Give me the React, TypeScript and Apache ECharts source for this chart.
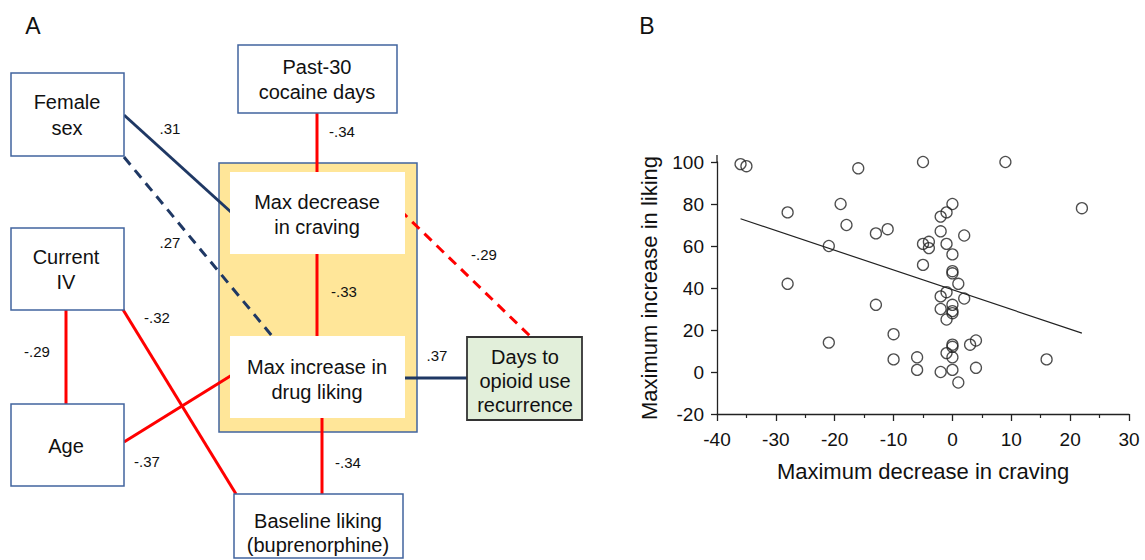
import React, { useEffect, useRef } from "react";
import * as echarts from "echarts";

// Panel B data: maximum decrease in craving (x) vs maximum increase in liking (y)
const cravingDecrease = [
  -36, -35, -16, -5, 9, -28, -19, -18, -13, -11, -21, -28, -13, -10, -21, -10, -6, -6,
  22, 0, -1, -2, -2, 2, -5, -4, -4, -1, 0, -5, 0, 0, 1, -1, -2, 2, -2, 0, 0, 0, -1,
  0, 0, -1, 0, 3, 4, -2, 0, 4, 1, 16,
];
const likingIncrease = [
  99, 98, 97, 100, 100, 76, 80, 70, 66, 68, 60, 42, 32, 18, 14, 6, 7, 1,
  78, 80, 76, 74, 67, 65, 61, 62, 59, 61, 56, 51, 48, 47, 42, 38, 36, 35, 30, 32, 29, 28, 25,
  13, 12, 9, 7, 13, 15, 0, 1, 2, -5, 6,
];
const fitLineX = [-36, 22];
const fitLineY = [73, 18.5];
const xTicks = [-40, 30, 10];
const yTicks = [-20, 100, 20];

// Panel A: path diagram labels and coefficients
const boxLabels = {
  female: ["Female", "sex"],
  cocaine: ["Past-30", "cocaine days"],
  craving: ["Max decrease", "in craving"],
  iv: ["Current", "IV"],
  liking: ["Max increase in", "drug liking"],
  days: ["Days to", "opioid use", "recurrence"],
  age: ["Age"],
  baseline: ["Baseline liking", "(buprenorphine)"],
};
const coefLabels = [".31", ".27", "-.34", "-.33", "-.29", ".37", "-.29", "-.32", "-.37", "-.34"];

const FONT = "Liberation Sans, Arial, Helvetica, sans-serif";
const BLUE = "#41649e";
const NAVY = "#1f3864";
const RED = "#ff0000";

function box(x: number, y: number, w: number, h: number, fill: string, stroke: string | null, lw = 1.5) {
  return {
    type: "rect",
    shape: { x, y, width: w, height: h },
    style: { fill, stroke: stroke || "none", lineWidth: stroke ? lw : 0 },
  };
}
function lines(texts: string[], cx: number, ys: number[], size = 20) {
  return texts.map((t, i) => ({
    type: "text",
    style: {
      text: t,
      x: cx,
      y: ys[i],
      textAlign: "center",
      textVerticalAlign: "middle",
      font: `${size}px ${FONT}`,
      fill: "#111",
    },
  }));
}
function seg(x1: number, y1: number, x2: number, y2: number, color: string, dashed = false) {
  return {
    type: "line",
    shape: { x1, y1, x2, y2 },
    style: { stroke: color, lineWidth: 3, lineDash: dashed ? [10, 7] : null },
  };
}
function coef(t: string, x: number, y: number) {
  return {
    type: "text",
    style: { text: t, x, y, textAlign: "center", textVerticalAlign: "middle", font: `15px ${FONT}`, fill: "#111" },
  };
}

export default function App() {
  const ref = useRef<HTMLDivElement>(null);
  useEffect(() => {
    if (!ref.current) return;
    const chart = echarts.init(ref.current, undefined, { renderer: "svg" });
    const points = cravingDecrease.map((x, i) => [x, likingIncrease[i]]);
    const fit = fitLineX.map((x, i) => [x, fitLineY[i]]);

    const graphic: any[] = [
      { type: "text", style: { text: "A", x: 33, y: 26, textAlign: "center", textVerticalAlign: "middle", font: `23px ${FONT}`, fill: "#111" } },
      { type: "text", style: { text: "B", x: 647, y: 26, textAlign: "center", textVerticalAlign: "middle", font: `23px ${FONT}`, fill: "#111" } },
      // yellow mediator block
      box(219, 163, 198, 269, "#ffe699", BLUE),
      // paths
      seg(124, 115, 232, 213, NAVY),
      seg(124, 157, 272, 336, NAVY, true),
      seg(317, 113, 317, 172, RED),
      seg(317, 254, 317, 336, RED),
      seg(400, 210, 530, 336, RED, true),
      seg(405, 378, 467, 378, NAVY),
      seg(66, 310, 66, 404, RED),
      seg(122, 308, 236, 494, RED),
      seg(124, 442, 232, 375, RED),
      seg(322, 418, 322, 494, RED),
      // boxes
      box(230, 172, 175, 82, "#ffffff", null),
      box(230, 336, 175, 82, "#ffffff", null),
      box(11, 73, 113, 83, "#ffffff", BLUE),
      box(238, 45, 159, 68, "#ffffff", BLUE),
      box(11, 228, 113, 82, "#ffffff", BLUE),
      box(11, 404, 113, 82, "#ffffff", BLUE),
      box(234, 494, 169, 64, "#ffffff", BLUE),
      box(467, 337, 115, 83, "#e2efda", "#333333", 1.8),
      ...lines(boxLabels.female, 67, [102, 128]),
      ...lines(boxLabels.cocaine, 317, [67, 92]),
      ...lines(boxLabels.craving, 317, [202, 227]),
      ...lines(boxLabels.iv, 66, [257, 282]),
      ...lines(boxLabels.liking, 317, [367, 392]),
      ...lines(boxLabels.days, 525, [357, 381, 405]),
      ...lines(boxLabels.age, 66, [446]),
      ...lines(boxLabels.baseline, 318, [521, 545]),
      coef(coefLabels[0], 170, 128),
      coef(coefLabels[1], 170, 242),
      coef(coefLabels[2], 342, 131),
      coef(coefLabels[3], 344, 291),
      coef(coefLabels[4], 484, 254),
      coef(coefLabels[5], 437, 355),
      coef(coefLabels[6], 37, 351),
      coef(coefLabels[7], 157, 317),
      coef(coefLabels[8], 147, 461),
      coef(coefLabels[9], 348, 462),
      // top extension of the y axis line above 100
      { type: "line", shape: { x1: 717, y1: 155, x2: 717, y2: 162 }, style: { stroke: "#222", lineWidth: 1.3 } },
    ];

    chart.setOption({
      animation: false,
      backgroundColor: "#ffffff",
      textStyle: { fontFamily: FONT },
      grid: { left: 717, right: 16, top: 162, bottom: 146, containLabel: false },
      xAxis: {
        type: "value",
        min: xTicks[0],
        max: xTicks[1],
        interval: xTicks[2],
        name: "Maximum decrease in craving",
        nameLocation: "middle",
        nameGap: 46,
        nameTextStyle: { fontSize: 22, color: "#111", fontFamily: FONT },
        axisLine: { onZero: false, lineStyle: { color: "#222", width: 1.3 } },
        axisTick: { length: 7, lineStyle: { color: "#222", width: 1.3 } },
        minorTick: { show: true, splitNumber: 2, length: 4, lineStyle: { color: "#222", width: 1.2 } },
        axisLabel: { fontSize: 19, color: "#111", margin: 16, fontFamily: FONT },
        splitLine: { show: false },
      },
      yAxis: {
        type: "value",
        min: yTicks[0],
        max: yTicks[1],
        interval: yTicks[2],
        name: "Maximum increase in liking",
        nameLocation: "middle",
        nameGap: 57,
        nameTextStyle: { fontSize: 22, color: "#111", fontFamily: FONT },
        axisLine: { onZero: false, lineStyle: { color: "#222", width: 1.3 } },
        axisTick: { length: 6, lineStyle: { color: "#222", width: 1.3 } },
        axisLabel: { fontSize: 19, color: "#111", margin: 13, fontFamily: FONT },
        splitLine: { show: false },
      },
      graphic,
      series: [
        {
          type: "line",
          data: fit,
          symbol: "none",
          lineStyle: { color: "#222", width: 1.2 },
          silent: true,
          z: 1,
        },
        {
          type: "scatter",
          data: points,
          symbol: "circle",
          symbolSize: 11,
          itemStyle: { color: "rgba(0,0,0,0)", borderColor: "#222", borderWidth: 1.3 },
          z: 2,
        },
      ],
    });
    return () => chart.dispose();
  }, []);
  return (
    <div
      ref={ref}
      style={{ position: "absolute", left: 0, top: 0, width: 1145, height: 560, background: "#fff" }}
    />
  );
}
